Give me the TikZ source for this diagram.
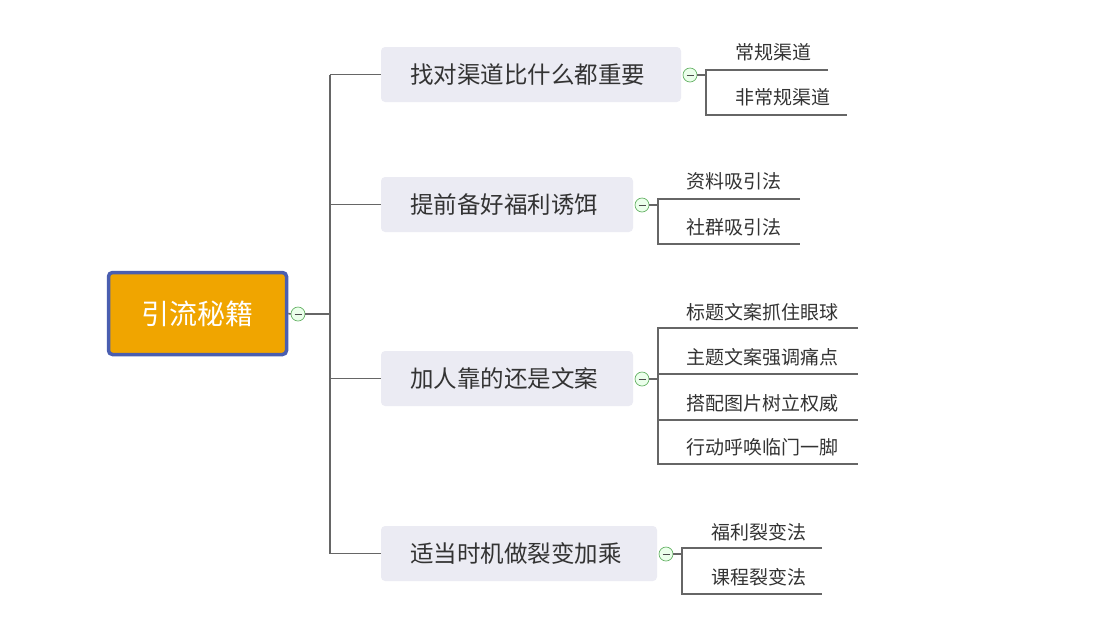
\documentclass[tikz,border=0pt]{standalone}
\usepackage{fontspec}
\newfontfamily\cjk{Noto Sans CJK SC}
\definecolor{brf}{HTML}{EBEBF3}
\definecolor{rootf}{HTML}{F0A500}
\definecolor{rootb}{HTML}{4A5EB0}
\begin{document}
\begin{tikzpicture}[x=1pt,y=-1pt,
  ln/.style={draw=black!60,line width=1.6pt},
  br/.style={fill=brf,rounded corners=4pt,inner sep=0pt,font=\cjk\fontsize{23.5}{23.5}\selectfont,text=black!80},
  lf/.style={font=\cjk\fontsize{19}{19}\selectfont,text=black!80,anchor=west,inner sep=0pt},
  tog/.style={circle,draw=green!50!black!60,fill=green!8,minimum size=14pt,inner sep=0pt,line width=0.7pt,
    path picture={\draw[black!70,line width=0.7pt](path picture bounding box.west)++(3.5pt,0)--++(7pt,0);}}]
\useasboundingbox (0,0) rectangle (1118,625);
\node[draw=rootb,line width=3.5pt,fill=rootf,rounded corners=4pt,
  minimum width=178pt,minimum height=82pt,font=\cjk\fontsize{28}{28}\selectfont,text=white] (root) at (197.5,313.5) {引流秘籍};
\node[tog] (t0) at (298,314) {};
\coordinate (j) at (330,314);
\draw[ln] (root.east) -- (t0.west);
\draw[ln,line width=2.8pt] (t0.east) -- (j);
% branches
\foreach \n/\xa/\xb/\y/\t in {b1/381/681/74.5/找对渠道比什么都重要, b2/381/633/204.5/提前备好福利诱饵, b3/381/633/378.5/加人靠的还是文案, b4/381/657/553.5/适当时机做裂变加乘}{
  \path[br] (\xa,\y-27.5) rectangle (\xb,\y+27.5);
  \node[br,fill=none,anchor=west] (\n) at (\xa,\y) {\hspace*{29pt}\t};
}
\coordinate (top) at (330,74.5); \coordinate (bot) at (330,553.5);
\draw[ln] (top) -- (bot);
\foreach \n in {b1,b2,b3,b4} \draw[ln] (\n.west -| j) -- (\n.west);
\node[tog] (t1) at (690,75) {};
\node[tog] (t2) at (642,205) {};
\node[tog] (t3) at (642,379) {};
\node[tog] (t4) at (666,554) {};
% leaves
\node[lf] (l11) at (735,52) {常规渠道};
\node[lf] (l12) at (735,97) {非常规渠道};
\draw[ln] (t1.east) -- (706,75);
\draw[ln] (828,70) -- (706,70) -- (706,115) -- (847,115);
\node[lf] (l21) at (686,181) {资料吸引法};
\node[lf] (l22) at (686,227) {社群吸引法};
\draw[ln] (t2.east) -- (658,205);
\draw[ln] (800,199) -- (658,199) -- (658,244) -- (800,244);
\node[lf] (l31) at (686,312) {标题文案抓住眼球};
\node[lf] (l32) at (686,357) {主题文案强调痛点};
\node[lf] (l33) at (686,403) {搭配图片树立权威};
\node[lf] (l34) at (686,447) {行动呼唤临门一脚};
\draw[ln] (t3.east) -- (658,379);
\draw[ln] (858,328) -- (658,328) -- (658,464) -- (858,464);
\draw[ln] (658,374) -- (858,374);
\draw[ln] (658,420) -- (858,420);
\node[lf] (l41) at (711,532) {福利裂变法};
\node[lf] (l42) at (711,577) {课程裂变法};
\draw[ln] (t4.east) -- (682,554);
\draw[ln] (822,548) -- (682,548) -- (682,594) -- (822,594);
\end{tikzpicture}
\end{document}
